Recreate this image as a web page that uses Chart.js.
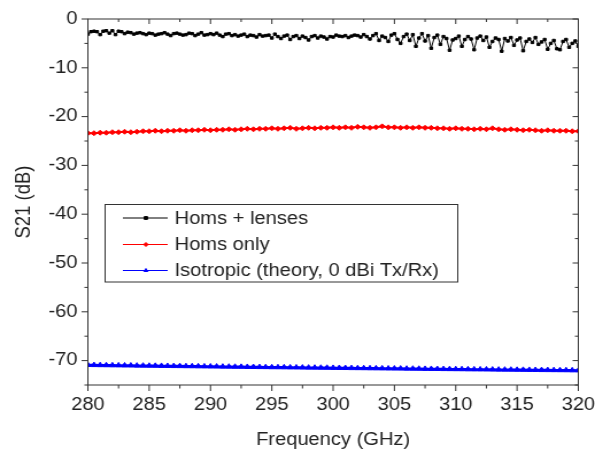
<!DOCTYPE html>
<html>
<head>
<meta charset="utf-8">
<script src="https://cdn.jsdelivr.net/npm/chart.js@4.4.1/dist/chart.umd.min.js"></script>
<style>
  html, body { margin: 0; padding: 0; background: #fff; overflow: hidden; }
</style>
</head>
<body>
<canvas id="c" width="518" height="451" style="display:block;width:595px;height:451px;"></canvas>
<script>
// ---------------- DATA ----------------
const seriesNames = ["Homs + lenses", "Homs only", "Isotropic (theory, 0 dBi Tx/Rx)"];

const xTicks = [280, 285, 290, 295, 300, 305, 310, 315, 320];
const xMinorTicks = [282.5, 287.5, 292.5, 297.5, 302.5, 307.5, 312.5, 317.5];
const yTicks = [0, -10, -20, -30, -40, -50, -60, -70];
const yMinorTicks = [-5, -15, -25, -35, -45, -55, -65, -75];

const freqBlack = [
  280,280.25,280.5,280.75,281,281.25,281.5,281.75,282,282.25,282.5,282.75,283,283.25,283.5,283.75,284,284.25,284.5,284.75,
  285,285.25,285.5,285.75,286,286.25,286.5,286.75,287,287.25,287.5,287.75,288,288.25,288.5,288.75,289,289.25,289.5,289.75,
  290,290.25,290.5,290.75,291,291.25,291.5,291.75,292,292.25,292.5,292.75,293,293.25,293.5,293.75,294,294.25,294.5,294.75,
  295,295.25,295.5,295.75,296,296.25,296.5,296.75,297,297.25,297.5,297.75,298,298.25,298.5,298.75,299,299.25,299.5,299.75,
  300,300.25,300.5,300.75,301,301.25,301.5,301.75,302,302.25,302.5,302.75,303,303.25,303.5,303.75,304,304.25,304.5,304.75,
  305,305.25,305.5,305.75,306,306.25,306.5,306.75,307,307.25,307.5,307.75,308,308.25,308.5,308.75,309,309.25,309.5,309.75,
  310,310.25,310.5,310.75,311,311.25,311.5,311.75,312,312.25,312.5,312.75,313,313.25,313.5,313.75,314,314.25,314.5,314.75,
  315,315.25,315.5,315.75,316,316.25,316.5,316.75,317,317.25,317.5,317.75,318,318.25,318.5,318.75,319,319.25,319.5,319.75,
  320
];
const hornsLenses = [
  -3.1,-2.6,-2.5,-2.6,-3.2,-2.5,-2.4,-2.9,-2.4,-3.2,-2.5,-2.6,-3.0,-2.7,-2.8,-3.1,-2.9,-2.8,-3.0,-3.2,
  -2.9,-3.0,-3.3,-3.1,-3.0,-2.8,-3.1,-3.4,-3.0,-2.9,-3.1,-3.3,-3.2,-2.9,-3.0,-3.4,-3.1,-2.8,-3.3,-3.2,
  -3.0,-3.2,-2.9,-3.3,-3.6,-3.1,-3.0,-3.4,-3.2,-3.5,-3.3,-3.1,-3.6,-3.3,-3.4,-3.7,-3.2,-3.5,-3.4,-3.3,
  -3.9,-3.1,-3.6,-4.0,-3.5,-3.3,-4.2,-3.6,-3.4,-4.0,-3.5,-3.8,-4.3,-3.6,-3.4,-3.9,-3.5,-3.7,-4.1,-3.6,
  -3.7,-3.3,-3.5,-3.6,-3.4,-3.8,-3.5,-3.3,-3.4,-3.7,-3.2,-3.6,-4.1,-3.4,-3.0,-4.4,-3.5,-3.8,-4.6,-3.3,
  -3.0,-4.2,-5.0,-3.6,-3.1,-4.4,-3.2,-5.6,-3.9,-3.0,-4.5,-3.4,-6.0,-3.8,-3.3,-5.2,-3.6,-4.0,-6.4,-4.3,
  -4.0,-3.5,-5.6,-4.2,-3.6,-4.1,-6.3,-3.9,-3.5,-4.4,-3.7,-5.8,-4.6,-3.9,-4.2,-6.6,-4.0,-4.5,-3.8,-5.4,
  -4.3,-3.9,-6.5,-4.6,-4.1,-4.8,-3.8,-5.2,-4.7,-4.2,-6.2,-5.0,-4.4,-6.1,-6.3,-4.6,-4.2,-5.8,-5.0,-4.5,
  -5.6
];

const freqFine = [
  280,280.5,281,281.5,282,282.5,283,283.5,284,284.5,285,285.5,286,286.5,287,287.5,288,288.5,289,289.5,
  290,290.5,291,291.5,292,292.5,293,293.5,294,294.5,295,295.5,296,296.5,297,297.5,298,298.5,299,299.5,
  300,300.5,301,301.5,302,302.5,303,303.5,304,304.5,305,305.5,306,306.5,307,307.5,308,308.5,309,309.5,
  310,310.5,311,311.5,312,312.5,313,313.5,314,314.5,315,315.5,316,316.5,317,317.5,318,318.5,319,319.5,
  320
];
const hornsOnly = [
  -23.4,-23.4,-23.3,-23.3,-23.2,-23.2,-23.1,-23.2,-23.1,-23.0,-23.0,-22.9,-23.0,-22.9,-22.9,-22.8,-22.9,-22.8,-22.8,-22.7,
  -22.8,-22.7,-22.7,-22.6,-22.7,-22.6,-22.5,-22.6,-22.5,-22.5,-22.4,-22.5,-22.4,-22.3,-22.5,-22.4,-22.3,-22.4,-22.3,-22.3,
  -22.2,-22.3,-22.2,-22.3,-22.1,-22.2,-22.3,-22.2,-22.0,-22.2,-22.2,-22.3,-22.2,-22.3,-22.2,-22.3,-22.3,-22.4,-22.4,-22.5,
  -22.4,-22.5,-22.5,-22.6,-22.5,-22.6,-22.4,-22.6,-22.7,-22.6,-22.7,-22.8,-22.7,-22.8,-22.9,-22.8,-22.9,-22.9,-22.9,-23.0,
  -23.0
];
const isotropic = [
  -70.90,-70.92,-70.94,-70.95,-70.97,-70.98,-71.00,-71.01,-71.03,-71.04,-71.06,-71.07,-71.09,-71.10,-71.12,-71.13,-71.15,-71.16,-71.18,-71.19,
  -71.21,-71.22,-71.24,-71.25,-71.27,-71.28,-71.30,-71.31,-71.33,-71.34,-71.36,-71.37,-71.38,-71.40,-71.41,-71.43,-71.44,-71.45,-71.47,-71.48,
  -71.50,-71.51,-71.52,-71.54,-71.55,-71.56,-71.58,-71.59,-71.60,-71.62,-71.63,-71.64,-71.66,-71.67,-71.68,-71.70,-71.71,-71.72,-71.74,-71.75,
  -71.76,-71.77,-71.79,-71.80,-71.81,-71.82,-71.84,-71.85,-71.86,-71.87,-71.89,-71.90,-71.91,-71.92,-71.94,-71.95,-71.96,-71.97,-71.98,-72.00,
  -72.01
];

// ---------------- STYLE / CHART ----------------
const FONT = '"Liberation Sans", Arial, sans-serif';
const FS = 17.5;
const TXT = '#222';
const AX = '#333';

Chart.defaults.font.family = FONT;
Chart.defaults.font.size = FS;
Chart.defaults.color = TXT;

const styles = [
  { color: '#000000', pointStyle: 'rect', radius: 1.7, width: 1 },
  { color: '#ff0000', pointStyle: 'rectRot', radius: 2.5, width: 2 },
  { color: '#0000ff', pointStyle: 'triangle', radius: 3, width: 2.5 }
];

function pts(xs, ys) { return xs.map((x, i) => ({ x: x, y: ys[i] })); }

const datasets = [
  pts(freqBlack, hornsLenses),
  pts(freqFine, hornsOnly),
  pts(freqFine, isotropic)
].map((d, i) => ({
  label: seriesNames[i],
  data: d,
  borderColor: styles[i].color,
  backgroundColor: styles[i].color,
  borderWidth: styles[i].width,
  pointStyle: styles[i].pointStyle,
  pointRadius: styles[i].radius,
  pointBorderWidth: 1,
  pointBackgroundColor: styles[i].color,
  pointBorderColor: styles[i].color,
  tension: 0
}));

const framePlugin = {
  id: 'frame',
  afterDatasetsDraw(chart) {
    const ctx = chart.ctx, a = chart.chartArea;
    const xs = chart.scales.x, ys = chart.scales.y;
    ctx.save();
    ctx.strokeStyle = AX;
    ctx.lineWidth = 1;
    ctx.strokeRect(a.left, a.top, a.right - a.left, a.bottom - a.top);
    ctx.beginPath();
    xTicks.forEach(v => {
      const p = xs.getPixelForValue(v);
      ctx.moveTo(p, a.bottom); ctx.lineTo(p, a.bottom + 6);
      ctx.moveTo(p, a.top); ctx.lineTo(p, a.top + 5);
    });
    xMinorTicks.forEach(v => {
      const p = xs.getPixelForValue(v);
      ctx.moveTo(p, a.bottom); ctx.lineTo(p, a.bottom + 3.5);
      ctx.moveTo(p, a.top); ctx.lineTo(p, a.top + 3);
    });
    yTicks.forEach(v => {
      const p = ys.getPixelForValue(v);
      ctx.moveTo(a.left - 5.5, p); ctx.lineTo(a.left, p);
      ctx.moveTo(a.right, p); ctx.lineTo(a.right - 5, p);
    });
    yMinorTicks.forEach(v => {
      const p = ys.getPixelForValue(v);
      ctx.moveTo(a.left - 3, p); ctx.lineTo(a.left, p);
      ctx.moveTo(a.right, p); ctx.lineTo(a.right - 3, p);
    });
    ctx.stroke();
    ctx.restore();
  },
  afterDraw(chart) {
    const ctx = chart.ctx;
    ctx.save();
    ctx.strokeStyle = AX;
    ctx.lineWidth = 1;
    ctx.fillStyle = '#fff';
    ctx.fillRect(91.5, 204.5, 307, 77.5);
    ctx.strokeRect(91.5, 204.5, 307, 77.5);
    const rows = [218, 244.5, 270.5];
    chart.data.datasets.forEach((ds, i) => {
      const y = rows[i];
      ctx.strokeStyle = ds.borderColor;
      ctx.lineWidth = 1;
      ctx.beginPath();
      ctx.moveTo(107, y); ctx.lineTo(146, y);
      ctx.stroke();
      ctx.fillStyle = ds.borderColor;
      Chart.helpers.drawPoint(ctx, {
        pointStyle: ds.pointStyle, rotation: 0,
        radius: 2, borderWidth: 1
      }, 127, y);
      ctx.fillStyle = TXT;
      ctx.font = FS + 'px ' + FONT;
      ctx.textBaseline = 'middle';
      ctx.textAlign = 'left';
      ctx.fillText(ds.label, 152, y + 1);
    });
    ctx.restore();
  }
};

const canvasEl = document.getElementById('c');
new Chart(canvasEl, {
  type: 'line',
  data: { datasets: datasets },
  plugins: [framePlugin],
  options: {
    responsive: false,
    devicePixelRatio: 1,
    animation: false,
    layout: { padding: { top: 19, right: 14.5, left: 0, bottom: 0 } },
    plugins: { legend: { display: false }, tooltip: { enabled: false } },
    scales: {
      x: {
        type: 'linear', min: 280, max: 320,
        afterBuildTicks: s => { s.ticks = xTicks.map(v => ({ value: v })); },
        afterFit: s => { s.height = 66; s.paddingLeft = 0; s.paddingRight = 0; },
        grid: { display: false, drawTicks: false },
        border: { display: false },
        ticks: { padding: 10, color: TXT, maxRotation: 0, autoSkip: false },
        title: { display: true, text: 'Frequency (GHz)', color: TXT, padding: { top: 0.5, bottom: 0.5 } }
      },
      y: {
        type: 'linear', min: -75, max: 0,
        afterBuildTicks: s => { s.ticks = yTicks.map(v => ({ value: v })); },
        afterFit: s => { s.width = 76.5; s.paddingTop = 0; s.paddingBottom = 0; },
        grid: { display: false, drawTicks: false },
        border: { display: false },
        ticks: { padding: 9, color: TXT, autoSkip: false },
        title: { display: true, text: 'S21 (dB)', color: TXT, font: { size: 18.5 }, padding: { top: 9.5, bottom: 9.5 } }
      }
    }
  }
});
// keep the horizontal stretch of the reference picture
canvasEl.style.width = '595px';
canvasEl.style.height = '451px';
</script>
</body>
</html>
